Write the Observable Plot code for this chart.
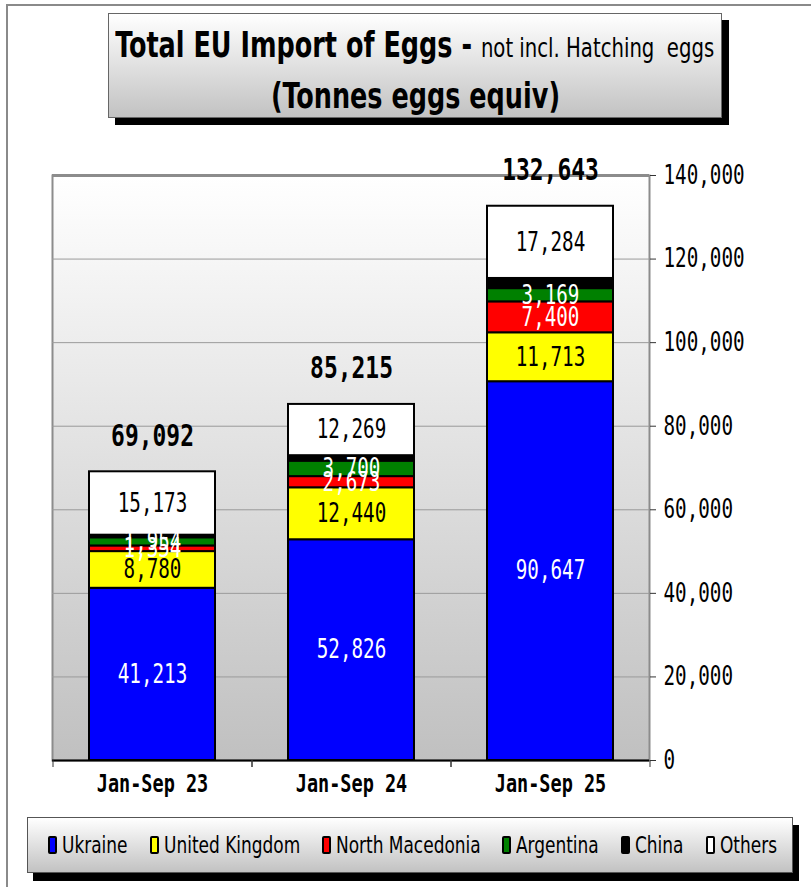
<!DOCTYPE html>
<html><head><meta charset="utf-8">
<script src="https://cdn.jsdelivr.net/npm/d3@7"></script>
<script src="https://cdn.jsdelivr.net/npm/@observablehq/plot@0.6"></script>
<style>
body{margin:0;background:#fff;}
#page{position:relative;width:811px;height:887px;overflow:hidden;font-family:'DejaVu Sans Condensed','DejaVu Sans',sans-serif;}
#frameline{position:absolute;left:6px;top:4px;width:900px;height:900px;border-left:2px solid #8a8a8a;border-top:2px solid #8a8a8a;}
#title{position:absolute;left:108px;top:13px;border:1px solid #666;background:linear-gradient(#ffffff,#c2c2c2);box-shadow:7px 7px 0 #000;box-sizing:border-box;width:614px;height:105px;padding-top:7px;}
#title .l{display:flex;justify-content:center;line-height:48px;font-size:35px;font-weight:bold;white-space:pre;color:#000;}
#title .l > span{display:inline-block;transform:scaleX(0.81);transform-origin:center;}
#title .s{font-size:27px;font-weight:normal;}
#chart{position:absolute;left:0;top:130px;}
#legend{position:absolute;left:27px;top:817px;width:766px;height:56px;box-sizing:border-box;border:1px solid #555;background:linear-gradient(#ffffff,#c2c2c2);box-shadow:6px 8px 0 #000;display:flex;align-items:center;padding-left:20px;gap:22px;font-size:23px;color:#000;white-space:nowrap;}
#legend .it{display:flex;align-items:center;}
#legend .sw{width:5px;height:14px;border:2px solid #000;border-radius:2px;margin-right:5px;}
#legend .tx{display:inline-block;transform-origin:left center;}
</style>
</head><body>
<div id="page">
  <div id="frameline"></div>
  <div id="title">
    <div class="l"><span>Total EU Import of Eggs - <span class="s">not incl. Hatching  eggs</span></span></div>
    <div class="l"><span>(Tonnes eggs equiv)</span></div>
  </div>
  <div id="chart"></div>
  <div id="legend"></div>
</div>
<script>
const categories = ["Jan-Sep 23", "Jan-Sep 24", "Jan-Sep 25"];
const seriesNames = ["Ukraine", "United Kingdom", "North Macedonia", "Argentina", "China", "Others"];
const seriesColors = ["#0000ff", "#ffff00", "#ff0000", "#008000", "#000000", "#ffffff"];
const ukraine = [41213, 52826, 90647];
const unitedKingdom = [8780, 12440, 11713];
const northMacedonia = [1354, 2673, 7400];
const argentina = [1954, 3700, 3169];
const china = [618, 1307, 2430];
const others = [15173, 12269, 17284];
const totals = [69092, 85215, 132643];
const yTicks = [0, 20000, 40000, 60000, 80000, 100000, 120000, 140000];
const whiteLabelSeries = ["Ukraine", "North Macedonia", "Argentina"];
const blackLabelSeries = ["United Kingdom", "Others"];

const seriesValues = [ukraine, unitedKingdom, northMacedonia, argentina, china, others];
const data = [];
categories.forEach((c, i) => {
  seriesNames.forEach((s, j) => data.push({cat: c, series: s, value: seriesValues[j][i]}));
});
const totalData = categories.map((c, i) => ({cat: c, total: totals[i]}));
const fmt = d3.format(",");
const monoFont = "'DejaVu Sans Mono',monospace";

const chart = Plot.plot({
  width: 811,
  height: 680,
  marginTop: 45,
  marginBottom: 50,
  marginLeft: 52,
  marginRight: 162,
  style: {fontFamily: monoFont, color: "#000", background: "transparent", overflow: "visible"},
  x: {domain: categories, paddingInner: 0.367, paddingOuter: 0.1835, label: null},
  y: {domain: [0, 140000], label: null},
  color: {domain: seriesNames, range: seriesColors},
  marks: [
    Plot.frame({fill: "url(#bgGrad)", stroke: "#8c8c8c", strokeWidth: 2}),
    Plot.gridY(yTicks, {stroke: "#9a9a9a", strokeOpacity: 1, strokeWidth: 1}),
    Plot.ruleY([140000], {stroke: "#8c8c8c", strokeWidth: 3}),
    Plot.barY(data, {x: "cat", y: "value", fill: "series", stroke: "#000", strokeWidth: 2}),
    Plot.ruleY([0], {stroke: "#000", strokeWidth: 2}),
    Plot.text(data, Plot.stackY({x: "cat", y: "value", z: "series",
      text: d => whiteLabelSeries.includes(d.series) ? fmt(d.value) : null,
      fill: "white", fontSize: 26})),
    Plot.text(data, Plot.stackY({x: "cat", y: "value", z: "series",
      text: d => blackLabelSeries.includes(d.series) ? fmt(d.value) : null,
      fill: "black", fontSize: 26})),
    Plot.text(totalData, {x: "cat", y: "total", text: d => fmt(d.total), dy: -36, fontSize: 31, fontWeight: "bold", fill: "#000"}),
    Plot.axisY({anchor: "right", ticks: yTicks, tickSize: 6, tickPadding: 8, tickFormat: fmt, fontSize: 26, label: null, stroke: "#333"}),
    Plot.axisX({tickSize: 0, tickPadding: 14, fontSize: 25, fontWeight: "bold", label: null}),
    Plot.axisX({tickSize: 7, dx: 99.5, tickFormat: () => "", label: null, stroke: "#333"}),
    Plot.axisX({tickSize: 7, dx: -99.5, tickFormat: () => "", label: null, stroke: "#333"})
  ]
});
d3.select(chart).insert("defs", ":first-child").html(
  '<linearGradient id="bgGrad" x1="0" y1="0" x2="0" y2="1"><stop offset="0" stop-color="#ffffff"/><stop offset="1" stop-color="#c0c0c0"/></linearGradient>'
);
document.getElementById("chart").appendChild(chart);

// compress the monospaced chart texts horizontally (narrow font look)
d3.select(chart).selectAll("text").each(function() {
  const len = this.getComputedTextLength();
  if (len > 0) {
    this.setAttribute("textLength", (len * 0.74).toFixed(1));
    this.setAttribute("lengthAdjust", "spacingAndGlyphs");
  }
});

const legend = d3.select("#legend");
seriesNames.forEach((s, j) => {
  const it = legend.append("div").attr("class", "it");
  it.append("div").attr("class", "sw").style("background", seriesColors[j]);
  it.append("span").attr("class", "tx").text(s);
});
const lscale = 0.82;
legend.selectAll(".tx").each(function() {
  const w = this.getBoundingClientRect().width;
  this.style.transform = `scaleX(${lscale})`;
  this.style.marginRight = `${-(w * (1 - lscale)).toFixed(1)}px`;
});
</script>
</body></html>
